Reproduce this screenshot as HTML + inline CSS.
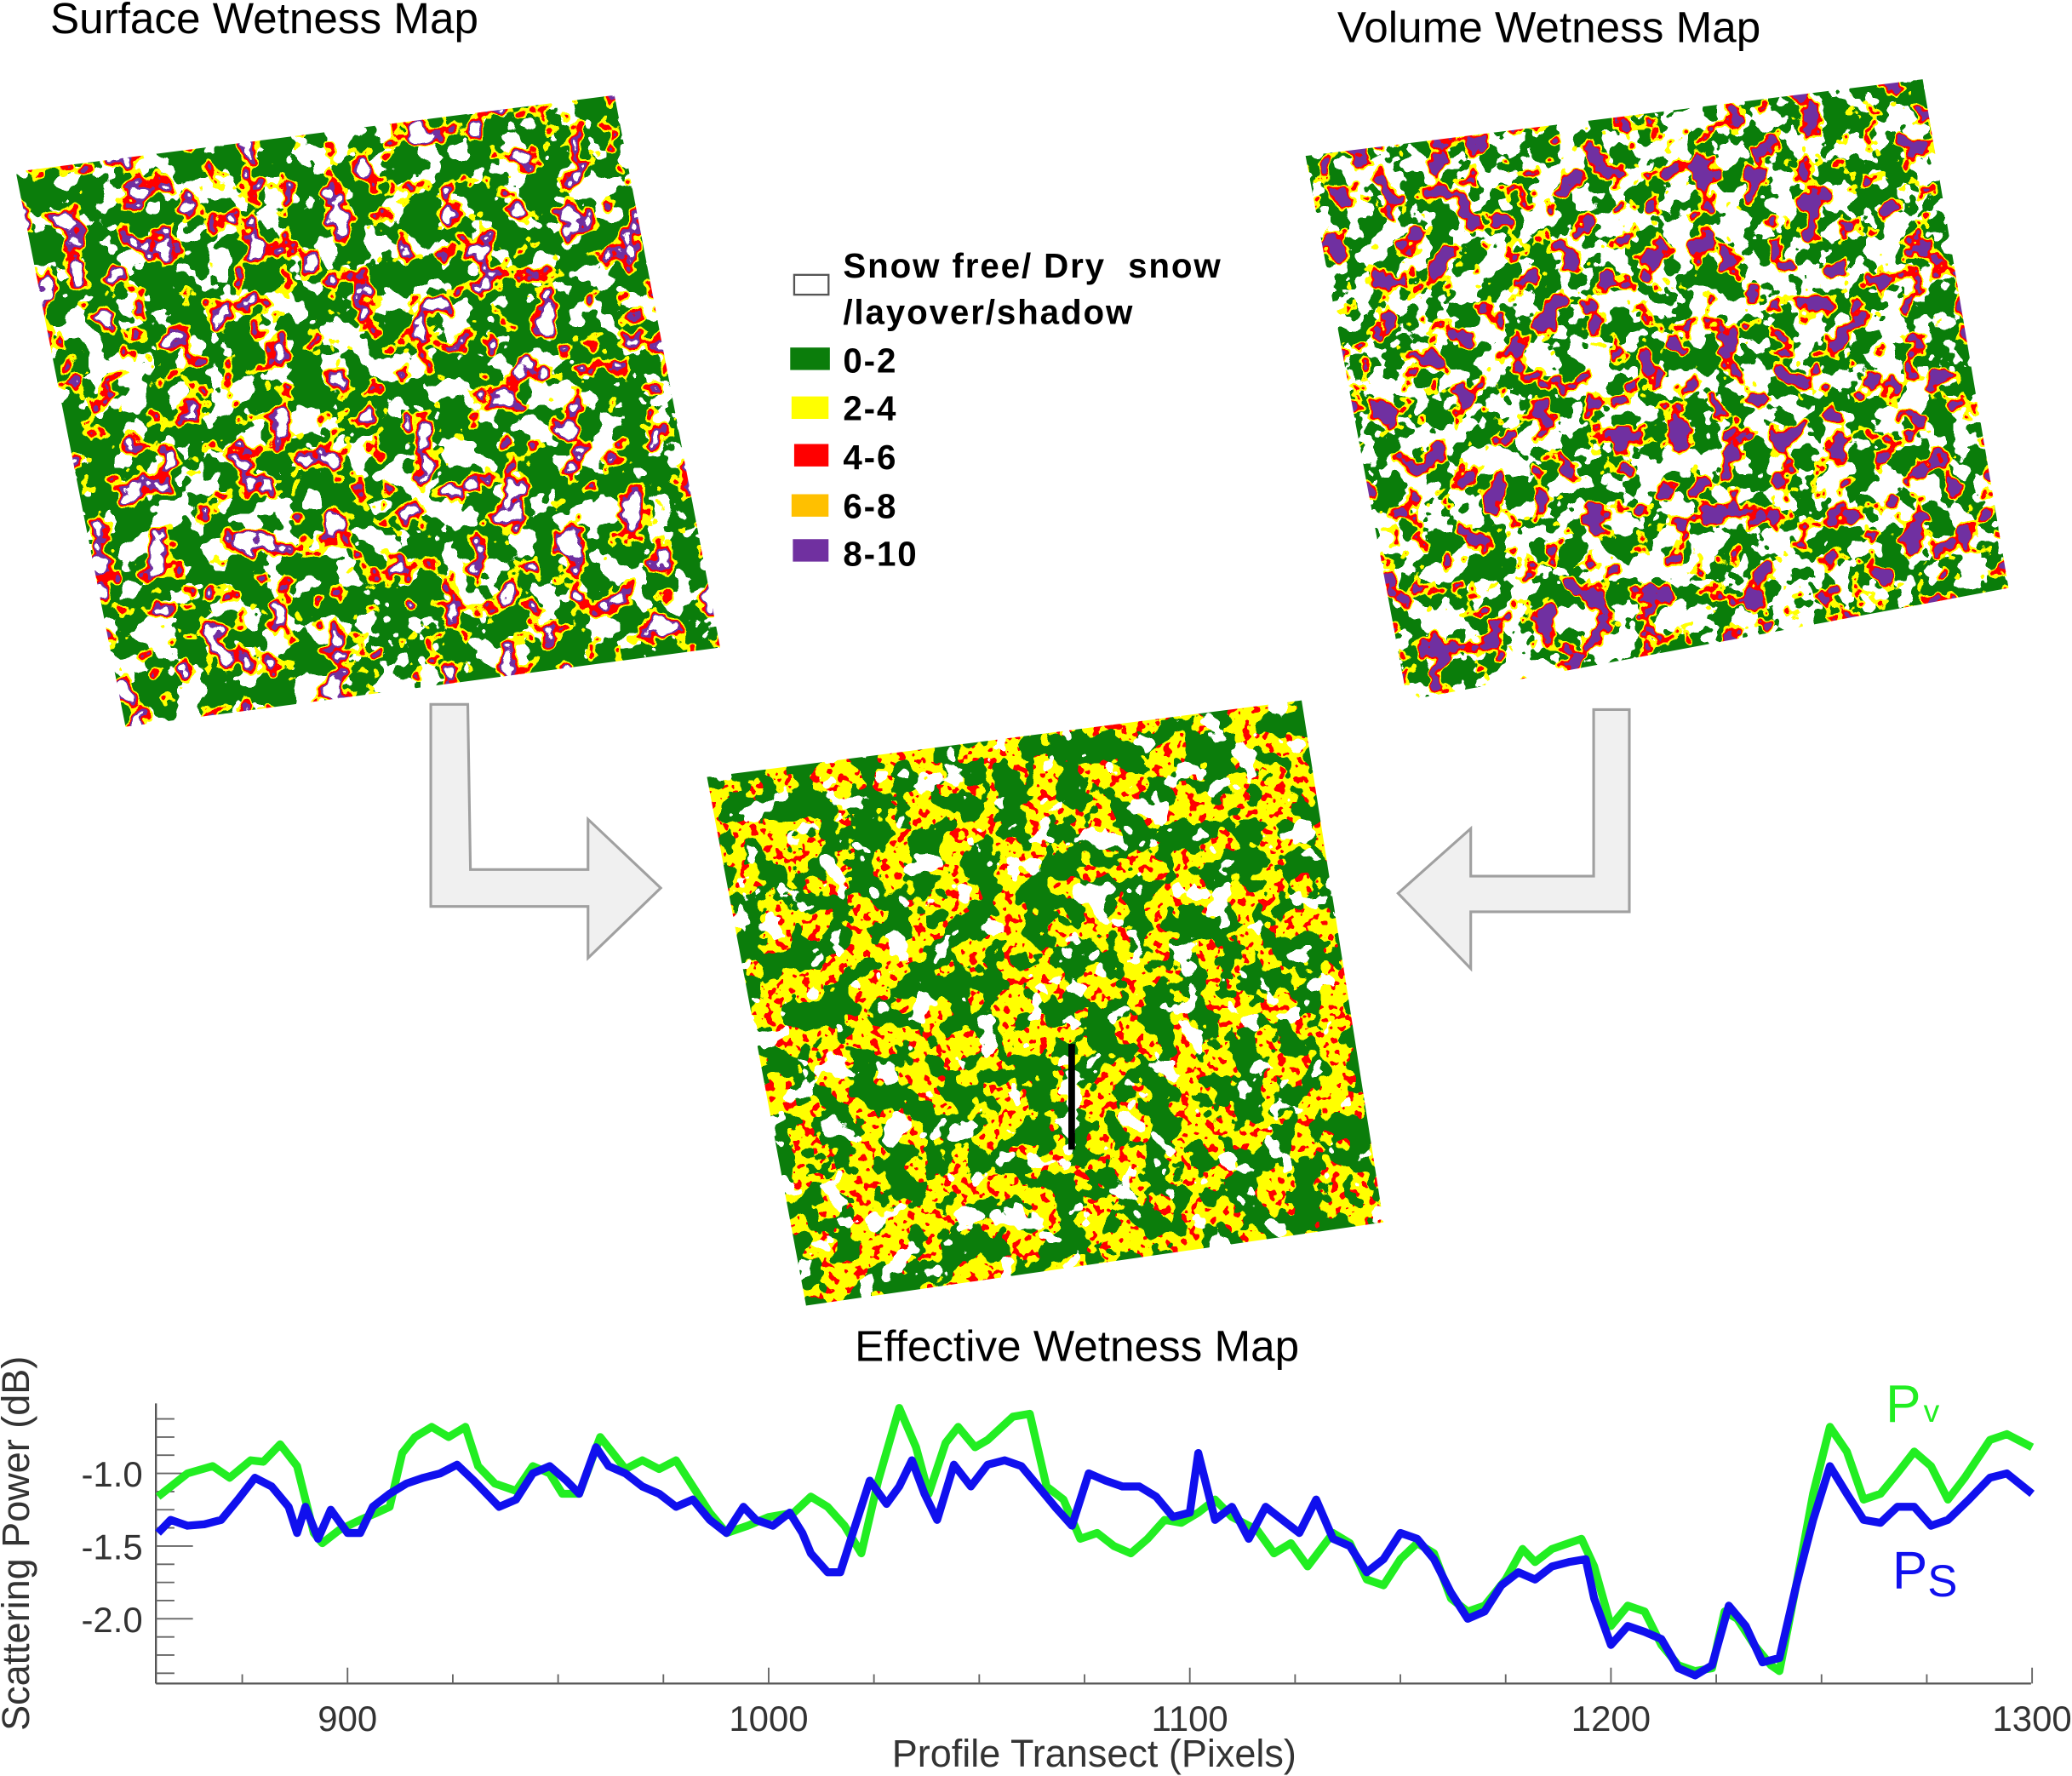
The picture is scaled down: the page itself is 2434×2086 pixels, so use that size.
<!DOCTYPE html>
<html><head><meta charset="utf-8"><style>
html,body{margin:0;padding:0;background:#fff;}
svg{display:block;font-family:"Liberation Sans",Arial,sans-serif;}
filter{color-interpolation-filters:sRGB;}
</style></head><body>
<svg id="root" width="2434" height="2086" viewBox="0 0 1568 1344" preserveAspectRatio="none">
<defs>
<filter id="fs" filterUnits="userSpaceOnUse" x="0" y="60" width="560" height="500" color-interpolation-filters="sRGB">
 <feTurbulence type="fractalNoise" baseFrequency="0.045" numOctaves="3" seed="4" result="n"/>
 <feFlood flood-color="#0b7d0b" result="g"/>
 <feColorMatrix in="n" type="matrix" values="0 0 0 0 1 0 0 0 0 1 0 0 0 0 1 0 -1 0 0 1" result="wa"/>
 <feComponentTransfer in="wa" result="w"><feFuncA type="discrete" tableValues="0 0 0 0 0 0 0 0 0 0 0 1 1 1 1 1 1 1 1 1"/></feComponentTransfer>
 <feColorMatrix in="n" type="matrix" values="0 0 0 0 1 0 0 0 0 1 0 0 0 0 0 1 0 0 0 0" result="ya"/>
 <feComponentTransfer in="ya" result="y"><feFuncA type="discrete" tableValues="0 0 0 0 0 0 0 0 0 0 0 1 1 1 1 1 1 1 1 1"/></feComponentTransfer>
 <feColorMatrix in="n" type="matrix" values="0 0 0 0 1 0 0 0 0 0 0 0 0 0 0 1 0 0 0 0" result="ra"/>
 <feComponentTransfer in="ra" result="r"><feFuncA type="discrete" tableValues="0 0 0 0 0 0 0 0 0 0 0 0 1 1 1 1 1 1 1 1"/></feComponentTransfer>
 <feColorMatrix in="n" type="matrix" values="0 0 0 0 0.44 0 0 0 0 0.19 0 0 0 0 0.63 1 0 0 0 0" result="pa"/>
 <feComponentTransfer in="pa" result="p"><feFuncA type="discrete" tableValues="0 0 0 0 0 0 0 0 0 0 0 0 0 1 1 1 1 1 1 1"/></feComponentTransfer>
 <feColorMatrix in="n" type="matrix" values="0 0 0 0 1 0 0 0 0 1 0 0 0 0 1 1 0 0 0 0" result="wa2"/>
 <feComponentTransfer in="wa2" result="w2"><feFuncA type="discrete" tableValues="0 0 0 0 0 0 0 0 0 0 0 0 0 0 1 1 1 1 1 1"/></feComponentTransfer>
 <feMerge result="m"><feMergeNode in="g"/><feMergeNode in="w"/><feMergeNode in="y"/><feMergeNode in="r"/><feMergeNode in="p"/><feMergeNode in="w2"/></feMerge>
 <feComposite in="m" in2="SourceAlpha" operator="in"/>
</filter>
<filter id="fv" filterUnits="userSpaceOnUse" x="980" y="50" width="560" height="500" color-interpolation-filters="sRGB">
 <feTurbulence type="fractalNoise" baseFrequency="0.05" numOctaves="3" seed="9" result="n"/>
 <feFlood flood-color="#ffffff" result="bg"/>
 <feColorMatrix in="n" type="matrix" values="0 0 0 0 0.04 0 0 0 0 0.49 0 0 0 0 0.04 0 1 0 0 0" result="ga"/>
 <feComponentTransfer in="ga" result="g"><feFuncA type="discrete" tableValues="0 0 0 0 0 0 0 0 0 0 1 1 1 1 1 1 1 1 1 1"/></feComponentTransfer>
 <feColorMatrix in="n" type="matrix" values="0 0 0 0 1 0 0 0 0 1 0 0 0 0 0 1 0 0 0 0" result="ya"/>
 <feComponentTransfer in="ya" result="y"><feFuncA type="discrete" tableValues="0 0 0 0 0 0 0 0 0 0 0 1 1 1 1 1 1 1 1 1"/></feComponentTransfer>
 <feColorMatrix in="n" type="matrix" values="0 0 0 0 1 0 0 0 0 0 0 0 0 0 0 1 0 0 0 0" result="ra"/>
 <feComponentTransfer in="ra" result="r"><feFuncA type="discrete" tableValues="0 0 0 0 0 0 0 0 0 0 0 0 1 1 1 1 1 1 1 1"/></feComponentTransfer>
 <feColorMatrix in="n" type="matrix" values="0 0 0 0 0.44 0 0 0 0 0.19 0 0 0 0 0.63 1 0 0 0 0" result="pa"/>
 <feComponentTransfer in="pa" result="p"><feFuncA type="discrete" tableValues="0 0 0 0 0 0 0 0 0 0 0 0 0 1 1 1 1 1 1 1"/></feComponentTransfer>
 <feMerge result="m"><feMergeNode in="bg"/><feMergeNode in="g"/><feMergeNode in="y"/><feMergeNode in="r"/><feMergeNode in="p"/></feMerge>
 <feComposite in="m" in2="SourceAlpha" operator="in"/>
</filter>
<filter id="fe" filterUnits="userSpaceOnUse" x="530" y="520" width="530" height="480" color-interpolation-filters="sRGB">
 <feTurbulence type="fractalNoise" baseFrequency="0.045" numOctaves="3" seed="13" result="n"/>
 <feFlood flood-color="#0b7d0b" result="g"/>
 <feColorMatrix in="n" type="matrix" values="0 0 0 0 1 0 0 0 0 1 0 0 0 0 0 1 0 0 0 0" result="ya"/>
 <feComponentTransfer in="ya" result="y"><feFuncA type="discrete" tableValues="0 0 0 0 0 0 0 0 0 0 1 1 1 1 1 1 1 1 1 1"/></feComponentTransfer>
 <feTurbulence type="fractalNoise" baseFrequency="0.15" numOctaves="2" seed="21" result="n2"/>
 <feColorMatrix in="n2" type="matrix" values="0 0 0 0 1 0 0 0 0 0 0 0 0 0 0 1 0 0 0 0" result="ra"/>
 <feComponentTransfer in="ra" result="r0"><feFuncA type="discrete" tableValues="0 0 0 0 0 0 0 0 0 0 0 0 1 1 1 1 1 1 1 1"/></feComponentTransfer>
 <feComposite in="r0" in2="y" operator="in" result="r"/>
 <feColorMatrix in="n" type="matrix" values="0 0 0 0 1 0 0 0 0 1 0 0 0 0 1 0 -1 0 0 1" result="wa"/>
 <feComponentTransfer in="wa" result="w"><feFuncA type="discrete" tableValues="0 0 0 0 0 0 0 0 0 0 0 0 0 1 1 1 1 1 1 1"/></feComponentTransfer>
 <feMerge result="m"><feMergeNode in="g"/><feMergeNode in="y"/><feMergeNode in="r"/><feMergeNode in="w"/></feMerge>
 <feComposite in="m" in2="SourceAlpha" operator="in"/>
</filter>
</defs>

<text x="38" y="25" font-size="33">Surface Wetness Map</text>
<text x="1012" y="32" font-size="33">Volume Wetness Map</text>
<text x="815" y="1030" font-size="33" text-anchor="middle">Effective Wetness Map</text>

<polygon points="12,130 465,72 545,490 95,550" fill="#000" filter="url(#fs)"/>
<polygon points="988,118 1455,60 1520,445 1065,530" fill="#000" filter="url(#fv)"/>
<polygon points="535,588 985,530 1047,925 610,988" fill="#000" filter="url(#fe)"/>
<line x1="811" y1="790" x2="811" y2="870" stroke="#000" stroke-width="5"/>

<polygon points="326,533 354,533 356,658 445,658 445,620 500,672 445,725 445,686 326,686" fill="#f0f0f0" stroke="#a0a0a0" stroke-width="2"/>
<polygon points="1206,537 1233,537 1233,690 1113,690 1113,733 1058,676 1113,627 1113,663 1206,663" fill="#f0f0f0" stroke="#a0a0a0" stroke-width="2"/>

<g font-family="'Liberation Sans',sans-serif" font-weight="bold" font-size="26" letter-spacing="1.2">
<rect x="601" y="208" width="26" height="15" fill="#fff" stroke="#555" stroke-width="1.5"/>
<text x="638" y="210" xml:space="preserve">Snow free/ Dry  snow</text>
<text x="638" y="245">/layover/shadow</text>
<rect x="598" y="263" width="30" height="17" fill="#0b7d0b"/><text x="638" y="282">0-2</text>
<rect x="599" y="300" width="28" height="17" fill="#ffff00"/><text x="638" y="318">2-4</text>
<rect x="601" y="336" width="26" height="17" fill="#ff0000"/><text x="638" y="355">4-6</text>
<rect x="599" y="374" width="28" height="17" fill="#ffc000"/><text x="638" y="392">6-8</text>
<rect x="600" y="408" width="27" height="17" fill="#7030a0"/><text x="638" y="428">8-10</text>
</g>

<g id="chart"></g>
<text transform="translate(22,1168) rotate(-90)" font-size="29" text-anchor="middle" fill="#333">Scattering Power (dB)</text>
<text x="828" y="1337" font-size="29" text-anchor="middle" fill="#333">Profile Transect (Pixels)</text>
<text x="1427" y="1076" font-size="40" fill="#22ee22">P<tspan font-size="24" dx="2">v</tspan></text>
<text x="1432" y="1202" font-size="40" fill="#1010ee">P<tspan font-size="34" dy="6">S</tspan></text>
</svg>
<script>
const xTicks = [900, 1000, 1100, 1200, 1300];
const yTicks = [-1.0, -1.5, -2.0];
const yTickLabels = ["-1.0", "-1.5", "-2.0"];
const xPv = [855,862,868,872,877,880,884,888,892,894,898,903,907,910,913,916,920,924,928,931,935,940,944,948,951,955,960,963,966,970,974,978,982,986,990,995,1000,1006,1010,1014,1018,1022,1026,1031,1035,1038,1042,1045,1049,1052,1058,1062,1066,1070,1074,1078,1082,1086,1090,1094,1098,1102,1106,1110,1116,1120,1124,1128,1134,1138,1142,1146,1150,1154,1158,1162,1166,1170,1175,1179,1182,1186,1190,1193,1196,1200,1204,1208,1212,1216,1220,1224,1227,1230,1234,1238,1240,1244,1248,1252,1256,1260,1264,1268,1272,1276,1280,1284,1290,1294,1300];
const pv = [-1.16,-1.00,-0.95,-1.03,-0.91,-0.92,-0.80,-0.95,-1.41,-1.48,-1.39,-1.32,-1.27,-1.23,-0.86,-0.75,-0.68,-0.75,-0.68,-0.95,-1.07,-1.12,-0.95,-1.00,-1.14,-1.14,-0.75,-0.86,-0.97,-0.91,-0.97,-0.91,-1.09,-1.27,-1.41,-1.36,-1.30,-1.27,-1.16,-1.23,-1.36,-1.55,-1.05,-0.55,-0.82,-1.14,-0.79,-0.68,-0.82,-0.77,-0.61,-0.59,-1.09,-1.18,-1.45,-1.41,-1.50,-1.55,-1.45,-1.32,-1.34,-1.27,-1.18,-1.30,-1.39,-1.55,-1.48,-1.64,-1.41,-1.48,-1.73,-1.77,-1.59,-1.48,-1.55,-1.86,-1.95,-1.91,-1.73,-1.52,-1.61,-1.52,-1.48,-1.45,-1.64,-2.05,-1.91,-1.95,-2.18,-2.32,-2.36,-2.34,-1.95,-2.00,-2.18,-2.32,-2.36,-1.77,-1.14,-0.68,-0.85,-1.18,-1.14,-1.00,-0.85,-0.95,-1.18,-1.03,-0.77,-0.73,-0.82];
const xPs = [855,858,862,866,870,874,878,882,886,888,890,893,896,900,903,906,910,914,918,922,926,930,933,936,940,944,948,952,955,959,962,966,970,974,978,982,986,990,994,997,1001,1005,1008,1010,1014,1017,1020,1024,1028,1031,1034,1037,1040,1044,1048,1052,1056,1060,1064,1068,1072,1076,1080,1084,1088,1092,1096,1100,1102,1106,1110,1114,1118,1122,1126,1130,1134,1138,1142,1146,1150,1154,1158,1162,1166,1170,1174,1178,1182,1186,1190,1194,1196,1200,1204,1208,1212,1216,1220,1224,1228,1232,1236,1240,1244,1248,1252,1256,1260,1264,1268,1272,1276,1280,1285,1290,1294,1300];
const ps = [-1.41,-1.32,-1.36,-1.35,-1.32,-1.18,-1.03,-1.09,-1.23,-1.41,-1.23,-1.45,-1.25,-1.41,-1.41,-1.23,-1.14,-1.07,-1.03,-1.00,-0.94,-1.05,-1.14,-1.23,-1.18,-1.00,-0.95,-1.05,-1.14,-0.82,-0.95,-1.00,-1.09,-1.14,-1.23,-1.18,-1.32,-1.41,-1.23,-1.32,-1.36,-1.27,-1.41,-1.55,-1.68,-1.68,-1.41,-1.05,-1.21,-1.09,-0.91,-1.14,-1.32,-0.94,-1.09,-0.94,-0.91,-0.95,-1.09,-1.23,-1.36,-1.00,-1.05,-1.09,-1.09,-1.16,-1.30,-1.27,-0.86,-1.32,-1.23,-1.45,-1.23,-1.32,-1.41,-1.18,-1.45,-1.50,-1.68,-1.59,-1.41,-1.45,-1.59,-1.82,-2.00,-1.95,-1.77,-1.68,-1.73,-1.64,-1.61,-1.59,-1.86,-2.18,-2.05,-2.09,-2.14,-2.34,-2.39,-2.32,-1.91,-2.05,-2.30,-2.27,-1.77,-1.32,-0.95,-1.14,-1.32,-1.34,-1.23,-1.23,-1.36,-1.32,-1.18,-1.03,-1.00,-1.14];

const NS = "http://www.w3.org/2000/svg";
const X0 = 118, X1 = 1537;
const YTOP = 1062, YBOT = 1274;
function sx(v){ return 263 + (v - 900) * 3.187; }
function sy(v){ return 1115 - (v + 1.0) * 110; }
const chart = document.getElementById('chart');
function mk(tag, attrs){ const e = document.createElementNS(NS, tag); for (const k in attrs) e.setAttribute(k, attrs[k]); chart.appendChild(e); return e; }

const yAxis = mk('line', {x1:X0, y1:YTOP, x2:X0, y2:YBOT, stroke:'#555', 'stroke-width':1.5});


const xAxis = mk('line', {x1:X0, y1:YBOT, x2:X1, y2:YBOT, stroke:'#555', 'stroke-width':1.5});



for (let v = -0.625; v >= -2.4; v -= 0.125) {
  const major = yTicks.some(t => Math.abs(t - v) < 1e-6);
  const t = mk('line', {x1:X0, y1:sy(v), x2:X0 + (major ? 28 : 14), y2:sy(v), stroke:'#666', 'stroke-width':1.2});
  
  
}
yTicks.forEach((v, i) => {
  const t = mk('text', {x:108, y:sy(v) + 10, 'font-size':27, 'text-anchor':'end', fill:'#333'});
  t.textContent = yTickLabels[i];
  
  
});
for (let v = 875; v <= 1300; v += 25) {
  const major = v % 100 === 0;
  const t = mk('line', {x1:sx(v), y1:YBOT, x2:sx(v), y2:YBOT - (major ? 12 : 7), stroke:'#666', 'stroke-width':1.2});
  
  
}
xTicks.forEach(v => {
  const t = mk('text', {x:sx(v), y:1310, 'font-size':27, 'text-anchor':'middle', fill:'#333'});
  t.textContent = String(v);
  
  
});

function pathOf(xs, ys){ return xs.map((x, i) => (i ? 'L' : 'M') + sx(x).toFixed(1) + ',' + sy(ys[i]).toFixed(1)).join(' '); }
const lpv = mk('path', {d:pathOf(xPv, pv), fill:'none', stroke:'#22ee22', 'stroke-width':6, 'stroke-linejoin':'round'});


const lps = mk('path', {d:pathOf(xPs, ps), fill:'none', stroke:'#1010ee', 'stroke-width':6, 'stroke-linejoin':'round'});


</script>
</body></html>
